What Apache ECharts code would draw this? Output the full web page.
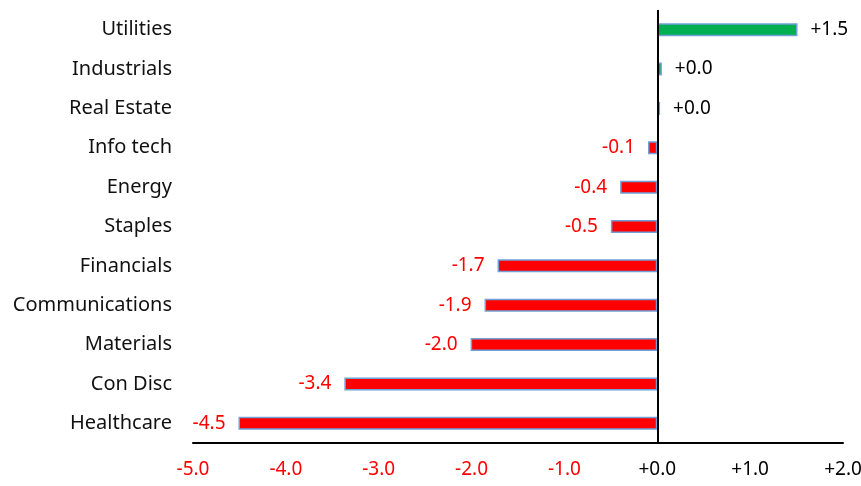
<!DOCTYPE html>
<html>
<head>
<meta charset="utf-8">
<script src="https://cdn.jsdelivr.net/npm/echarts@6/dist/echarts.min.js"></script>
<style>
  html, body { margin: 0; padding: 0; background: #fff; }
  #chart { width: 861px; height: 486px; }
</style>
</head>
<body>
<div id="chart"></div>
<script>
// sectors, top to bottom
var sectors = ["Utilities", "Industrials", "Real Estate", "Info tech", "Energy", "Staples",
  "Financials", "Communications", "Materials", "Con Disc", "Healthcare"];
var changes = [1.51, 0.049, 0.03, -0.1, -0.4, -0.5, -1.72, -1.86, -2.01, -3.37, -4.51];

var fmt = function (v) {
  var s = Math.abs(v).toFixed(1);
  return (v < 0 ? "-" : "+") + s;
};
var FONT = "Noto Sans";

var chart = echarts.init(document.getElementById("chart"));

var barData = changes.map(function (v) {
  return {
    value: v,
    itemStyle: { color: v >= 0 ? "#00b050" : "#ff0000" },
    label: {
      position: v >= 0 ? "right" : "left",
      color: v >= 0 ? "#000" : "#ff0000"
    }
  };
});

chart.setOption({
  animation: false,
  grid: { left: 193, right: 18, top: 10, bottom: 43, containLabel: false, outerBoundsMode: "none" },
  xAxis: {
    type: "value",
    min: -5,
    max: 2,
    interval: 1,
    axisLine: { show: true, lineStyle: { color: "#000", width: 2 } },
    axisTick: { show: false },
    splitLine: { show: false },
    axisLabel: {
      margin: 17,
      fontFamily: FONT,
      fontSize: 19,
      formatter: function (v) { return fmt(v); },
      color: function (v) { return v < 0 ? "#ff0000" : "#000"; }
    }
  },
  yAxis: {
    type: "category",
    inverse: true,
    data: sectors,
    axisLine: { show: false },
    axisTick: { show: false },
    axisLabel: { margin: 21, fontFamily: FONT, fontSize: 20, color: "#111" }
  },
  series: [
    {
      type: "bar",
      data: barData,
      barWidth: 13,
      itemStyle: { borderColor: "#6fa0d8", borderWidth: 1.5 },
      label: {
        show: true,
        distance: 13,
        fontFamily: FONT,
        fontSize: 19,
        formatter: function (p) { return fmt(p.value); }
      },
      markLine: {
        silent: true,
        symbol: "none",
        label: { show: false },
        lineStyle: { color: "#000", width: 2, type: "solid" },
        data: [{ xAxis: 0 }]
      }
    }
  ]
});
</script>
</body>
</html>
